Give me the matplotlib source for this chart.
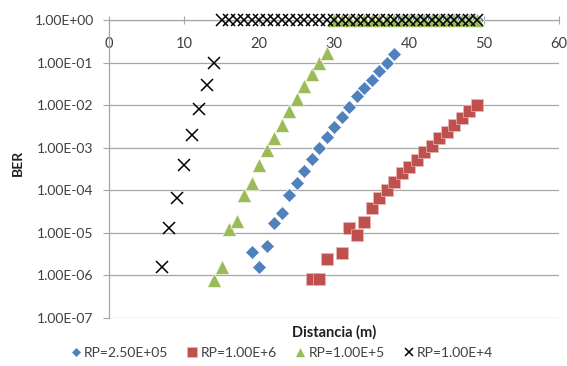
import matplotlib
matplotlib.use("Agg")
import matplotlib.pyplot as plt
import numpy as np

# ---- data ----
d_rp250k = [19, 20, 21, 22, 23, 24, 25, 26, 27, 28, 29, 30, 31, 32, 33, 34, 35, 36, 37, 38,
            39, 40, 41, 42, 43, 44, 45, 46, 47, 48, 49]
ber_rp250k = [3.5e-6, 1.6e-6, 5e-6, 1.7e-5, 2.9e-5, 7.9e-5, 1.5e-4, 2.8e-4, 5.4e-4, 1.0e-3,
              1.8e-3, 3.1e-3, 5.3e-3, 9.1e-3, 1.6e-2, 2.5e-2, 4.0e-2, 6.3e-2, 9.8e-2, 1.55e-1,
              1, 1, 1, 1, 1, 1, 1, 1, 1, 1, 1]

d_rp1m = [27, 28, 29, 31, 32, 33, 34, 35, 36, 37, 38, 39, 40, 41, 42, 43, 44, 45, 46, 47, 48, 49]
ber_rp1m = [8.1e-7, 8.1e-7, 2.4e-6, 3.3e-6, 1.3e-5, 8.9e-6, 1.8e-5, 3.8e-5, 6.6e-5, 1.0e-4,
            1.6e-4, 2.5e-4, 3.6e-4, 5.2e-4, 7.8e-4, 1.1e-3, 1.7e-3, 2.4e-3, 3.5e-3, 5.0e-3,
            7.1e-3, 1.0e-2]

d_rp100k = [14, 15, 16, 17, 18, 19, 20, 21, 22, 23, 24, 25, 26, 27, 28, 29,
            30, 31, 32, 33, 34, 35, 36, 37, 38, 39, 40, 41, 42, 43, 44, 45, 46, 47, 48, 49]
ber_rp100k = [7.9e-7, 1.6e-6, 1.2e-5, 1.95e-5, 7.9e-5, 1.5e-4, 4.0e-4, 9.0e-4, 1.7e-3, 3.5e-3,
              7.1e-3, 1.4e-2, 2.8e-2, 5.4e-2, 1.0e-1, 1.7e-1,
              1, 1, 1, 1, 1, 1, 1, 1, 1, 1, 1, 1, 1, 1, 1, 1, 1, 1, 1, 1]

d_rp10k = [7, 8, 9, 10, 11, 12, 13, 14] + list(range(15, 50))
ber_rp10k = [1.6e-6, 1.3e-5, 6.6e-5, 4.0e-4, 1.95e-3, 8.3e-3, 2.9e-2, 1.0e-1] + [1] * 35

series_labels = ["RP=2.50E+05", "RP=1.00E+6", "RP=1.00E+5", "RP=1.00E+4"]
x_ticks = [0, 10, 20, 30, 40, 50, 60]
y_ticks = [1e0, 1e-1, 1e-2, 1e-3, 1e-4, 1e-5, 1e-6, 1e-7]
y_tick_labels = ["1.00E+00", "1.00E-01", "1.00E-02", "1.00E-03",
                 "1.00E-04", "1.00E-05", "1.00E-06", "1.00E-07"]

plt.rcParams['font.family'] = ['Lato', 'DejaVu Sans']

fig = plt.figure(figsize=(5.67, 3.66), dpi=100)
ax = fig.add_axes([109/567, 1-318/366, (559-109)/567, (318-20)/366])

ax.set_yscale('log')
ax.set_xlim(0, 60)
ax.set_ylim(1e-7, 1e0)

gcol = '#A6A6A6'
ax.yaxis.grid(True, color=gcol, linewidth=0.9)
ax.set_axisbelow(True)

kw = dict(linestyle='none', clip_on=False, zorder=3)
ax.plot(d_rp250k, ber_rp250k, marker='D', ms=6.8, color='#4F81BD', mec='white', mew=0.5,
        label=series_labels[0], **kw)
ax.plot(d_rp1m, ber_rp1m, marker='s', ms=8.8, color='#C0504D', mec='#E6B9B8', mew=0.5,
        label=series_labels[1], **kw)
ax.plot(d_rp100k, ber_rp100k, marker='^', ms=10, color='#9BBB59', mec='white', mew=0.4,
        label=series_labels[2], **kw)
ax.plot(d_rp10k, ber_rp10k, marker='x', ms=8.5, color='black', mew=1.1,
        label=series_labels[3], **kw)

# axes styling
ax.spines['bottom'].set_position(('data', 1.0))
ax.spines['top'].set_visible(False)
ax.spines['right'].set_visible(False)
for s in ['bottom', 'left']:
    ax.spines[s].set_color(gcol)
    ax.spines[s].set_linewidth(0.9)

ax.set_xticks(x_ticks)
ax.set_xticklabels([str(v) for v in x_ticks])
ax.set_yticks(y_ticks)
ax.set_yticklabels(y_tick_labels)
ax.yaxis.set_minor_locator(matplotlib.ticker.NullLocator())
ax.tick_params(axis='x', direction='inout', length=6, color=gcol, labelsize=10.5,
               labelcolor='#404040', pad=9)
ax.tick_params(axis='y', direction='out', length=4, color=gcol, labelsize=10,
               labelcolor='#404040', pad=7)

fig.text(18/567, 1-163/366, 'BER', rotation=90, ha='center', va='center',
         fontsize=10, fontweight='bold', color='#202020')
fig.text(334/567, 1-332/366, 'Distancia (m)', ha='center', va='center',
         fontsize=10.5, fontweight='bold', color='#202020')

leg = fig.legend(loc='center', bbox_to_anchor=(281/567, 1-353/366), ncol=4, frameon=False,
                 fontsize=10, handletextpad=0.1, columnspacing=1.2, handlelength=1.0,
                 markerscale=0.75, borderpad=0)
for t in leg.get_texts():
    t.set_color('#404040')

fig.savefig('out.png', dpi=100)
